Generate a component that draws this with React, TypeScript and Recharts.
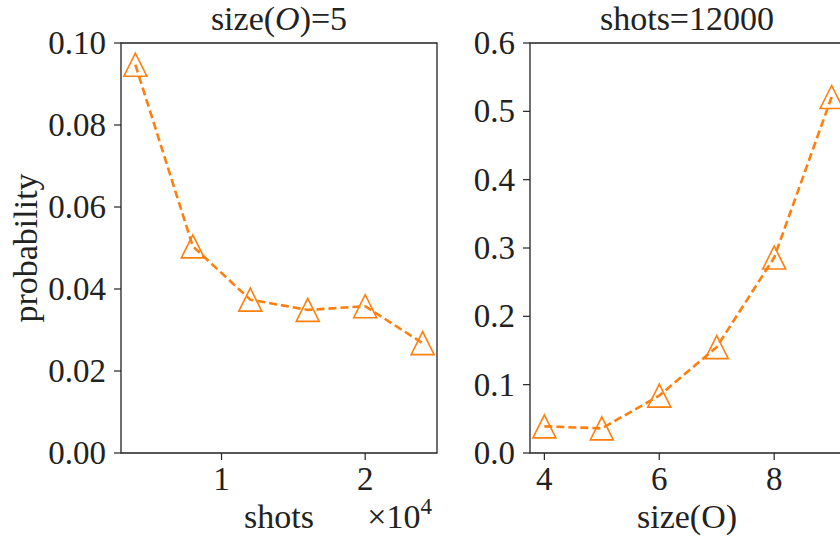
import React from 'react';
import { LineChart, Line, XAxis, YAxis, ReferenceArea } from 'recharts';

// left panel: size(O)=5
const shots = [4000, 8000, 12000, 16000, 20000, 24000];
const probByShots = [0.0947, 0.0504, 0.0374, 0.0349, 0.0358, 0.0268];
const shotTicks = [10000, 20000];
const leftYTicks = [0, 0.02, 0.04, 0.06, 0.08, 0.1];

// right panel: shots=12000
const sizes = [4, 5, 6, 7, 8, 9];
const probBySize = [0.039, 0.036, 0.084, 0.155, 0.286, 0.521];
const sizeTicks = [4, 6, 8];
const rightYTicks = [0, 0.1, 0.2, 0.3, 0.4, 0.5, 0.6];

const leftData = shots.map((s, i) => ({ x: s, p: probByShots[i] }));
const rightData = sizes.map((s, i) => ({ x: s, p: probBySize[i] }));

const FONT = '"Liberation Serif"';
const TEXT = '#222';
const ORANGE = '#ff7f0e';
const TICK_FS = 33;
const LABEL_FS = 34;

const Triangle = (props: any) => {
  const { cx, cy, index } = props;
  if (cx == null || cy == null) return null;
  const r = 11.5;
  return (
    <polygon
      key={`tri-${index}`}
      points={`${cx},${cy - r} ${cx - r},${cy + r} ${cx + r},${cy + r}`}
      fill="none"
      stroke={ORANGE}
      strokeWidth={1.6}
    />
  );
};

const makeYTick = (digits: number) => (props: any) => {
  const { x, y, payload } = props;
  return (
    <text x={x} y={y + 11} textAnchor="end" fill={TEXT} style={{ fontFamily: FONT, fontSize: TICK_FS }}>
      {Number(payload.value).toFixed(digits)}
    </text>
  );
};

const makeXTick = (fmt: (v: number) => string) => (props: any) => {
  const { x, y, payload } = props;
  return (
    <text x={x} y={y + 22} textAnchor="middle" fill={TEXT} style={{ fontFamily: FONT, fontSize: TICK_FS }}>
      {fmt(payload.value)}
    </text>
  );
};

const tickLine = { stroke: TEXT, strokeWidth: 1.2 };
const labelStyle = { fontFamily: FONT, fontSize: LABEL_FS };

const App = () => {
  return (
    <div
      style={{
        position: 'fixed',
        left: 0,
        top: 0,
        width: 840,
        height: 538,
        overflow: 'hidden',
        background: '#fff',
      }}
    >
      <div style={{ position: 'absolute', left: 0, top: 0 }}>
        <LineChart width={440} height={538} data={leftData} margin={{ top: 43, right: 3, left: 0, bottom: 0 }}>
          <XAxis
            dataKey="x"
            type="number"
            domain={[3000, 25000]}
            ticks={shotTicks}
            axisLine={false}
            tickLine={tickLine}
            tickSize={7}
            tickMargin={8}
            height={85}
            tick={makeXTick((v) => String(v / 10000))}
          />
          <YAxis
            type="number"
            domain={[0, 0.1]}
            ticks={leftYTicks}
            axisLine={false}
            tickLine={tickLine}
            tickSize={7}
            tickMargin={8}
            width={121}
            tick={makeYTick(2)}
          />
          <ReferenceArea x1={3000} x2={25000} y1={0} y2={0.1} fill="none" stroke={TEXT} strokeWidth={1.3} />
          <Line
            type="linear"
            dataKey="p"
            stroke={ORANGE}
            strokeWidth={2.6}
            strokeDasharray="8 4"
            dot={Triangle}
            activeDot={false}
            isAnimationActive={false}
          />
        </LineChart>
      </div>
      <div style={{ position: 'absolute', left: 440, top: 0 }}>
        <LineChart width={410} height={538} data={rightData} margin={{ top: 43, right: 4, left: 0, bottom: 0 }}>
          <XAxis
            dataKey="x"
            type="number"
            domain={[3.75, 9.25]}
            ticks={sizeTicks}
            axisLine={false}
            tickLine={tickLine}
            tickSize={7}
            tickMargin={8}
            height={85}
            tick={makeXTick((v) => String(v))}
          />
          <YAxis
            type="number"
            domain={[0, 0.6]}
            ticks={rightYTicks}
            axisLine={false}
            tickLine={tickLine}
            tickSize={7}
            tickMargin={8}
            width={90}
            tick={makeYTick(1)}
          />
          <ReferenceArea x1={3.75} x2={9.25} y1={0} y2={0.6} fill="none" stroke={TEXT} strokeWidth={1.3} />
          <Line
            type="linear"
            dataKey="p"
            stroke={ORANGE}
            strokeWidth={2.6}
            strokeDasharray="8 4"
            dot={Triangle}
            activeDot={false}
            isAnimationActive={false}
          />
        </LineChart>
      </div>
      <svg
        width={840}
        height={538}
        style={{ position: 'absolute', left: 0, top: 0, pointerEvents: 'none' }}
        fill={TEXT}
      >
        <text x={279} y={30} textAnchor="middle" style={labelStyle}>
          size(<tspan fontStyle="italic">O</tspan>)=5
        </text>
        <text x={687} y={30} textAnchor="middle" style={labelStyle}>shots=12000</text>
        <text x={279} y={528} textAnchor="middle" style={labelStyle}>shots</text>
        <text x={432} y={528} textAnchor="end" style={labelStyle}>
          ×10<tspan fontSize={23} dy={-14}>4</tspan>
        </text>
        <text x={687} y={528} textAnchor="middle" style={labelStyle}>size(O)</text>
        <text x={37} y={248} textAnchor="middle" transform="rotate(-90, 37, 248)" style={labelStyle}>
          probability
        </text>
      </svg>
    </div>
  );
};

export default App;
